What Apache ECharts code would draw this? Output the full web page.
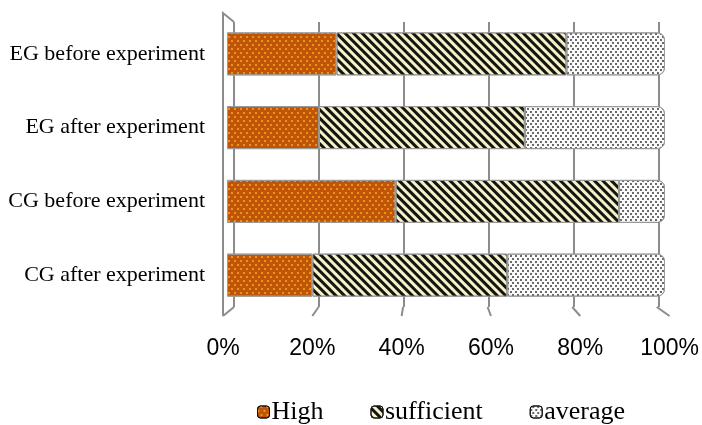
<!DOCTYPE html>
<html>
<head>
<meta charset="utf-8">
<script src="https://cdn.jsdelivr.net/npm/echarts@6/dist/echarts.min.js"></script>
<style>
  html, body { margin: 0; padding: 0; background: #fff; }
  #chart { width: 702px; height: 425px; }
</style>
</head>
<body>
<div id="chart"></div>
<script>
// categories top to bottom
const groups = ['EG before experiment', 'EG after experiment', 'CG before experiment', 'CG after experiment'];
const levelNames = ['High', 'sufficient', 'average'];
// percentages
const high = [25, 21, 38.5, 19.5];
const sufficient = [52.5, 47, 51, 44.5];
const average = [22.5, 32, 10.5, 36];
const ticks = [0, 20, 40, 60, 80, 100];

let chart = echarts.init(document.getElementById('chart'));

const lineColor = '#8c8c8c';
const serif = '"Liberation Serif", "DejaVu Serif", serif';

const patterns = {
  High: {
    color: '#c0550a',
    decal: { symbol: 'circle', symbolSize: 0.9, color: '#f6b81e',
      dashArrayX: [[2, 4], [0, 3, 2, 1]], dashArrayY: [2, 1.2], rotation: 0 }
  },
  sufficient: {
    color: '#f5f1c8',
    decal: { symbol: 'rect', symbolSize: 1, color: '#141410',
      dashArrayX: [1, 0], dashArrayY: [2.4, 2.1], rotation: Math.PI / 4 }
  },
  average: {
    color: '#fbfbfb',
    decal: { symbol: 'circle', symbolSize: 1, color: '#3a3a3a',
      dashArrayX: [[1.6, 2.2], [0, 1.9, 1.6, 0.3]], dashArrayY: [1.6, 0.5], rotation: 0 }
  }
};

function barSeries(name, data, last) {
  return {
    name: name,
    type: 'bar',
    stack: 'total',
    xAxisIndex: 1,
    yAxisIndex: 1,
    barWidth: 43,
    data: data,
    itemStyle: {
      color: patterns[name].color,
      decal: patterns[name].decal,
      borderColor: '#9a9a9a',
      borderWidth: 1,
      borderRadius: last ? [0, 7, 7, 0] : 0
    },
    emphasis: { disabled: true }
  };
}

// floor diagonals + side wall (3D look of the original)
function renderFloor(params, api) {
  const cs = params.coordSys;
  const front = api.coord([api.value(0), 0]);
  const bx = cs.x + 11 + (front[0] - cs.x) * (425 / 449);
  const by = cs.y;
  const style = { stroke: lineColor, lineWidth: 2, fill: null };
  const children = [{
    type: 'polyline',
    shape: { points: [[bx, by], [front[0], front[1]]] },
    style: style
  }];
  if (api.value(0) === 0) {
    children.push({
      type: 'polyline',
      shape: { points: [[front[0], front[1]], [front[0], cs.y - 294], [bx, cs.y - 285]] },
      style: style
    });
  }
  return { type: 'group', children: children };
}

let option = {
  animation: false,
  legend: {
    data: levelNames,
    top: 394,
    left: 252,
    itemWidth: 12,
    itemHeight: 12,
    itemGap: 47,
    itemStyle: { borderColor: '#111', borderWidth: 1 },
    textStyle: { fontFamily: serif, fontSize: 26, color: '#000', padding: [0, 0, 0, -3] }
  },
  grid: [
    { left: 234, right: 43, top: 22, bottom: 118 },   // back wall
    { left: 227, right: 37, top: 17, bottom: 113 },   // bars
    { left: 223, right: 30, top: 307, bottom: 109 }   // floor front edge
  ],
  xAxis: [
    { gridIndex: 0, type: 'value', min: 0, max: 100, interval: 20,
      axisLine: { show: false }, axisTick: { show: false }, axisLabel: { show: false },
      splitLine: { show: true, lineStyle: { color: lineColor, width: 2 } } },
    { gridIndex: 1, type: 'value', min: 0, max: 100, show: false },
    { gridIndex: 2, type: 'value', min: 0, max: 100, interval: 20,
      axisLine: { show: false }, axisTick: { show: false }, splitLine: { show: false },
      axisLabel: { formatter: '{value}%', fontFamily: '"Liberation Sans", Arial, sans-serif',
        fontSize: 23, color: '#000', margin: 21 } }
  ],
  yAxis: [
    { gridIndex: 0, type: 'category', data: groups, show: false },
    { gridIndex: 1, type: 'category', data: groups, inverse: true,
      axisLine: { show: false }, axisTick: { show: false },
      axisLabel: { fontFamily: serif, fontSize: 22, color: '#000', margin: 22 } },
    { gridIndex: 2, type: 'value', min: 0, max: 1, show: false }
  ],
  series: [
    barSeries('High', high, false),
    barSeries('sufficient', sufficient, false),
    barSeries('average', average, true),
    {
      type: 'custom',
      xAxisIndex: 2,
      yAxisIndex: 2,
      silent: true,
      renderItem: renderFloor,
      data: ticks.map(function (v) { return [v, 0]; }),
      z: 1
    }
  ]
};

chart.setOption(option);
window.addEventListener('resize', () => {
  chart.resize();
});
</script>
</body>
</html>
